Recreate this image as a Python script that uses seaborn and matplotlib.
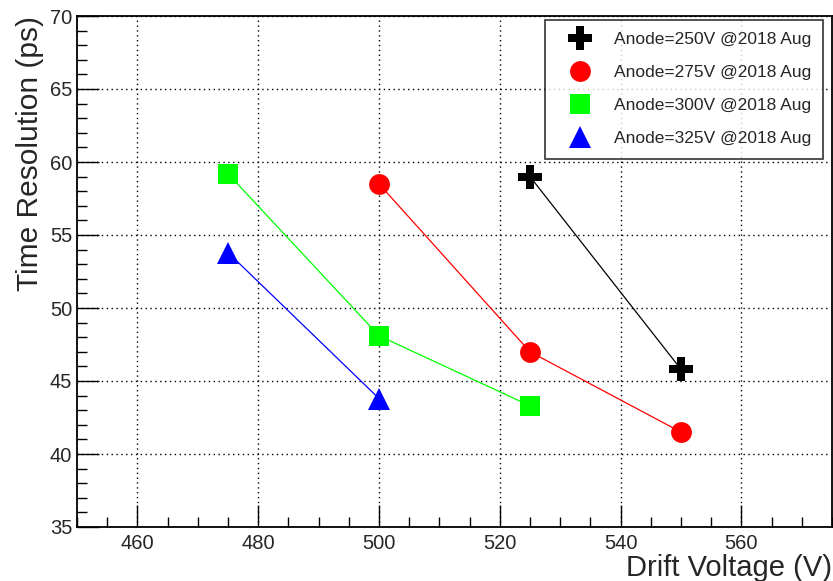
import matplotlib
matplotlib.use("Agg")
import matplotlib.pyplot as plt
from matplotlib.lines import Line2D
from matplotlib.ticker import MultipleLocator
import seaborn as sns
import pandas as pd

labels = ["Anode=250V @2018 Aug", "Anode=275V @2018 Aug",
          "Anode=300V @2018 Aug", "Anode=325V @2018 Aug"]
drift_250 = [525, 550]
res_250 = [59.0, 45.8]
drift_275 = [500, 525, 550]
res_275 = [58.5, 47.0, 41.5]
drift_300 = [475, 500, 525]
res_300 = [59.2, 48.1, 43.3]
drift_325 = [475, 500]
res_325 = [53.8, 43.8]

colors = ["#000000", "#ff0000", "#00ff00", "#0000ff"]
markers = ["P", "o", "s", "^"]
msizes = [17, 15, 15, 16]

rows = []
for lab, xs, ys in zip(labels, [drift_250, drift_275, drift_300, drift_325],
                       [res_250, res_275, res_300, res_325]):
    for x, y in zip(xs, ys):
        rows.append({"series": lab, "drift": x, "res": y})
df = pd.DataFrame(rows)

sns.set_style("white")
plt.rcParams["font.family"] = ["Liberation Sans", "DejaVu Sans"]

fig = plt.figure(figsize=(8.33, 5.81), dpi=100)
ax = fig.add_axes([77 / 833, 54 / 581, 755 / 833, 511 / 581])

pal = dict(zip(labels, colors))
sns.lineplot(data=df, x="drift", y="res", hue="series", palette=pal,
             hue_order=labels, linewidth=0.9, legend=False, ax=ax,
             sort=False, estimator=None, zorder=2)
for lab, c, m, s in zip(labels, colors, markers, msizes):
    sub = df[df["series"] == lab]
    ax.plot(sub["drift"], sub["res"], linestyle="none", marker=m,
            markersize=s, color=c, markeredgewidth=0, zorder=3)

ax.set_xlim(450, 575)
ax.set_ylim(35, 70)
ax.xaxis.set_major_locator(MultipleLocator(20))
ax.xaxis.set_minor_locator(MultipleLocator(5))
ax.yaxis.set_major_locator(MultipleLocator(5))
ax.yaxis.set_minor_locator(MultipleLocator(1))
ax.tick_params(which="major", direction="in", length=16, width=1.0,
               labelsize=14.5, bottom=True, left=True, top=False,
               right=False, color="black")
ax.tick_params(axis="x", which="major", pad=5)
ax.tick_params(axis="y", which="major", pad=3.5)
ax.tick_params(which="minor", direction="in", length=7.5, width=1.0,
               bottom=True, left=True, top=False, right=False,
               color="black")
ax.grid(True, which="major", linestyle=(0, (1, 2.5)), color="black",
        linewidth=1.0)
for sp in ax.spines.values():
    sp.set_visible(True)
    sp.set_color("black")
    sp.set_linewidth(1.3)

ax.set_xlabel("Drift Voltage (V)", fontsize=21, ha="right", va="baseline")
ax.xaxis.set_label_coords(1.0, (581 - 576 - 54) / 511)
ax.set_ylabel("Time Resolution (ps)", fontsize=21.5, loc="top", labelpad=4.5)

handles = [Line2D([], [], linestyle="none", marker=m, markersize=s,
                  color=c, markeredgewidth=0)
           for c, m, s in zip(colors, markers, msizes)]
leg = fig.legend(handles, labels, loc="upper right",
                 bbox_to_anchor=(823 / 833, 1 - 20 / 581),
                 bbox_transform=fig.transFigure, fontsize=12.5,
                 frameon=True, fancybox=False, borderaxespad=0,
                 handletextpad=0.63, labelspacing=1.03, borderpad=0.7,
                 handlelength=2.65)
leg.get_frame().set_edgecolor("black")
leg.get_frame().set_linewidth(1.2)

fig.savefig("out.png", dpi=100)
